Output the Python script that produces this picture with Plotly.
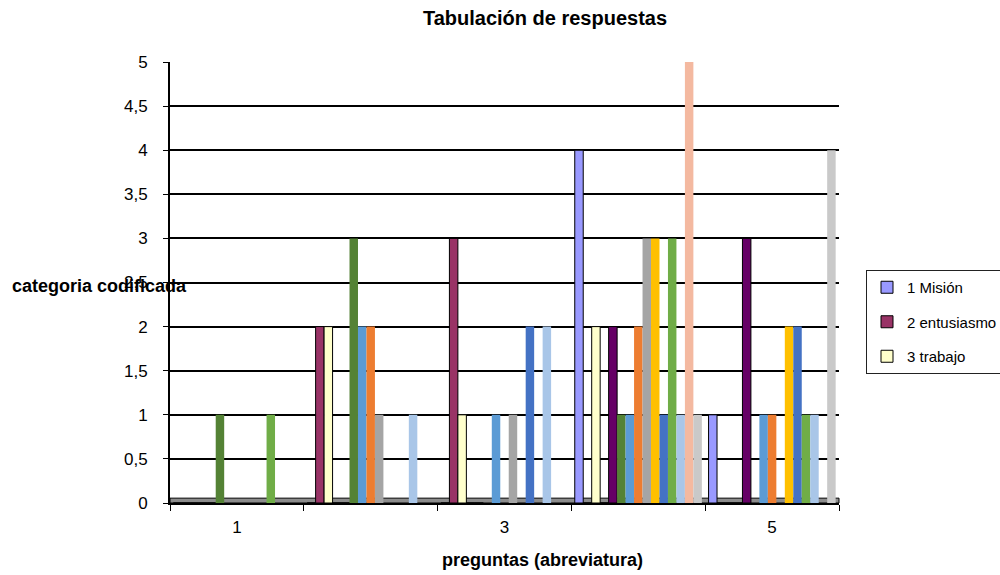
import plotly.graph_objects as go

categories = [1, 2, 3, 4, 5]
series_names = ["1 Misión", "2 entusiasmo", "3 trabajo", "4", "5", "6", "7", "8",
                "9", "10", "11", "12", "13", "14", "15"]
series_colors = ["#9999FF", "#993366", "#FFFFCC", "#CCFFFF", "#660066", "#548235",
                 "#5B9BD5", "#ED7D31", "#A5A5A5", "#FFC000", "#4472C4", "#70AD47",
                 "#A9C6E8", "#F4B9A0", "#C9C9C9"]
series_outlined = [True, True, True, True, True] + [False] * 10
series_values = [
    [0, 0, 0, 4, 1],
    [0, 2, 3, 0, 0],
    [0, 2, 1, 2, 0],
    [0, 0, 0, 0, 0],
    [0, 0, 0, 2, 3],
    [1, 3, 0, 1, 0],
    [0, 2, 1, 1, 1],
    [0, 2, 0, 2, 1],
    [0, 1, 1, 3, 0],
    [0, 0, 0, 3, 2],
    [0, 0, 2, 1, 2],
    [1, 0, 0, 3, 1],
    [0, 1, 2, 1, 1],
    [0, 0, 0, 5, 0],
    [0, 0, 0, 1, 4],
]
legend_shown = 3
x_tick_labels = [1, 3, 5]
y_ticks = [0, 0.5, 1, 1.5, 2, 2.5, 3, 3.5, 4, 4.5, 5]

FONT = "Liberation Sans, Arial, sans-serif"

fig = go.Figure()
for i, (name, color, vals) in enumerate(zip(series_names, series_colors, series_values)):
    fig.add_trace(go.Bar(
        x=categories, y=vals, name=name,
        marker=dict(color=color,
                    line=dict(color="black", width=1 if series_outlined[i] else 0)),
        showlegend=i < legend_shown,
        legendgroup=f"g{i}",
    ))

boundaries = [c - 0.5 for c in categories] + [categories[-1] + 0.5]

fig.update_layout(
    width=1000, height=575,
    margin=dict(l=170, r=161, t=62, b=72, autoexpand=False),
    paper_bgcolor="white", plot_bgcolor="white",
    barmode="group", bargap=0.05, bargroupgap=0,
    separators=",.",
    font=dict(family=FONT, size=17, color="black"),
    title=dict(text="<b>Tabulación de respuestas</b>", x=0.545, xanchor="center",
               y=1 - 18 / 575, yanchor="middle", yref="container", xref="container",
               font=dict(size=20, family=FONT, color="black")),
    showlegend=True,
    legend=dict(x=0.866, y=1 - 270 / 575, xanchor="left", yanchor="top",
                xref="container", yref="container",
                bordercolor="#222", borderwidth=1, bgcolor="white",
                font=dict(size=15, family=FONT), traceorder="grouped",
                tracegroupgap=12, itemwidth=30),
    xaxis=dict(range=[0.5, 5.5], tickmode="array", tickvals=x_tick_labels,
               ticktext=[str(v) for v in x_tick_labels], ticks="", showgrid=False,
               showline=True, linecolor="black", linewidth=2, zeroline=False,
               tickfont=dict(size=17), ticklabelstandoff=8,
               minor=dict(tickmode="array", tickvals=boundaries, ticks="outside",
                          ticklen=6, tickcolor="black", tickwidth=1, showgrid=False)),
    yaxis=dict(range=[0, 5], tickmode="array", tickvals=y_ticks,
               ticks="outside", ticklen=5, tickcolor="black",
               showline=True, linecolor="black", linewidth=2,
               showgrid=True, gridcolor="black", gridwidth=1.5,
               zeroline=False, tickfont=dict(size=17), ticklabelstandoff=12),
    annotations=[
        dict(text="<b>categoria codificada</b>", xref="paper", yref="paper",
             x=(10 - 170) / 669, y=(503 - 286) / 441, xanchor="left", yanchor="middle",
             showarrow=False, font=dict(size=18, family=FONT, color="black")),
        dict(text="<b>preguntas (abreviatura)</b>", xref="paper", yref="paper",
             x=(542 - 170) / 669, y=(503 - 560) / 441, xanchor="center", yanchor="middle",
             showarrow=False, font=dict(size=18, family=FONT, color="black")),
    ],
    shapes=[
        dict(type="rect", xref="paper", yref="y", x0=0, x1=1, y0=0, y1=0.055,
             fillcolor="#8c8c8c", line=dict(color="black", width=1), layer="between"),
    ],
)

fig.write_html("out.html")
